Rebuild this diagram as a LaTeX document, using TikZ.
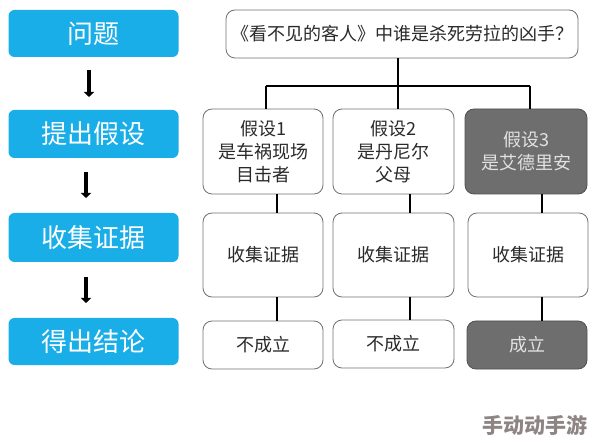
\documentclass[tikz,border=0pt]{standalone}
\usepackage{fontspec}
\newfontfamily\cjk{Noto Sans CJK SC}
\usetikzlibrary{arrows.meta}
\definecolor{stepblue}{HTML}{1AAEE8}
\definecolor{boxline}{HTML}{707070}
\definecolor{boxgrey}{HTML}{6E6E6E}
\definecolor{boxgreyline}{HTML}{505050}
\definecolor{greytext}{HTML}{E2E2E2}
\definecolor{bodytext}{HTML}{2A2A2A}
\definecolor{wmark}{HTML}{8E8484}
\begin{document}
\begin{tikzpicture}[x=1pt,y=-1pt,
  leftbox/.style={rectangle, rounded corners=6pt, fill=stepblue, text=white,
    font=\cjk\fontsize{26}{30}\selectfont, minimum width=170pt, minimum height=47pt, inner sep=0pt},
  wbox/.style={rectangle, rounded corners=9pt, draw=boxline, line width=0.8pt, fill=white,
    text=bodytext, font=\cjk\fontsize{18}{23}\selectfont, align=center, inner sep=0pt},
  gbox/.style={wbox, fill=boxgrey, draw=boxgreyline, text=greytext},
  link/.style={draw=black, line width=1.1pt},
  flow/.style={-{Triangle[width=10pt,length=5pt]}, line width=3.5pt, draw=black}]
\useasboundingbox (0,0) rectangle (594,443);
% left column
\node[leftbox] (q) at (93.5,33.5) {问题};
\node[leftbox, minimum height=48pt] (h) at (93.5,134) {提出假设};
\node[leftbox, minimum height=49pt] (c) at (93.5,237.5) {收集证据};
\node[leftbox] (r) at (93.5,341.5) {得出结论};
\coordinate (a1s) at (89,70); \coordinate (a1e) at (89,97);
\coordinate (a2s) at (86,172); \coordinate (a2e) at (86,198);
\coordinate (a3s) at (86,277); \coordinate (a3e) at (86,303);
\draw[flow] (a1s) -- (a1e);
\draw[flow] (a2s) -- (a2e);
\draw[flow] (a3s) -- (a3e);
% title
\node[wbox, minimum width=352pt, minimum height=48pt] (t) at (402,34) {《看不见的客人》中谁是杀死劳拉的凶手？};
% hypotheses
\node[wbox, minimum width=120pt, minimum height=85pt] (h1) at (263,151.5) {假设1\\是车祸现场\\目击者};
\node[wbox, minimum width=121pt, minimum height=85pt] (h2) at (393.5,151.5) {假设2\\是丹尼尔\\父母};
\node[gbox, minimum width=122pt, minimum height=85pt] (h3) at (526,151.5) {假设3\\是艾德里安};
% evidence
\node[wbox, minimum width=120pt, minimum height=84pt] (e1) at (263,255) {收集证据};
\node[wbox, minimum width=121pt, minimum height=84pt] (e2) at (393.5,255) {收集证据};
\node[wbox, minimum width=120pt, minimum height=84pt] (e3) at (528,255) {收集证据};
% results
\node[wbox, minimum width=120pt, minimum height=48pt] (r1) at (263,345) {不成立};
\node[wbox, minimum width=121pt, minimum height=48pt] (r2) at (393.5,344) {不成立};
\node[gbox, minimum width=120pt, minimum height=48pt] (r3) at (527,345) {成立};
% bus from title
\coordinate (bus) at (398,86);
\coordinate (busL) at (266,86);
\coordinate (busR) at (530,86);
\draw[link] (t.south -| bus) -- (bus);
\draw[link] (busL) -- (busR);
\draw[link] (busL) -- (busL |- h1.north);
\draw[link] (bus) -- (bus |- h2.north);
\draw[link] (busR) -- (busR |- h3.north);
% column links
\draw[link] ([xshift=14pt]h1.south) -- ([xshift=14pt]e1.north);
\draw[link] ([xshift=16.5pt]h2.south) -- ([xshift=16.5pt]e2.north);
\draw[link] ([xshift=16pt]h3.south) -- ([xshift=14pt]e3.north);
\draw[link] ([xshift=14pt]e1.south) -- ([xshift=14pt]r1.north);
\draw[link] ([xshift=16.5pt]e2.south) -- ([xshift=16.5pt]r2.north);
\draw[link] ([xshift=14pt]e3.south) -- ([xshift=15pt]r3.north);
% watermark
\node[font=\cjk\bfseries\fontsize{21}{21}\selectfont, text=wmark, inner sep=0pt] (wm) at (535,425) {手动动手游};
\end{tikzpicture}
\end{document}
